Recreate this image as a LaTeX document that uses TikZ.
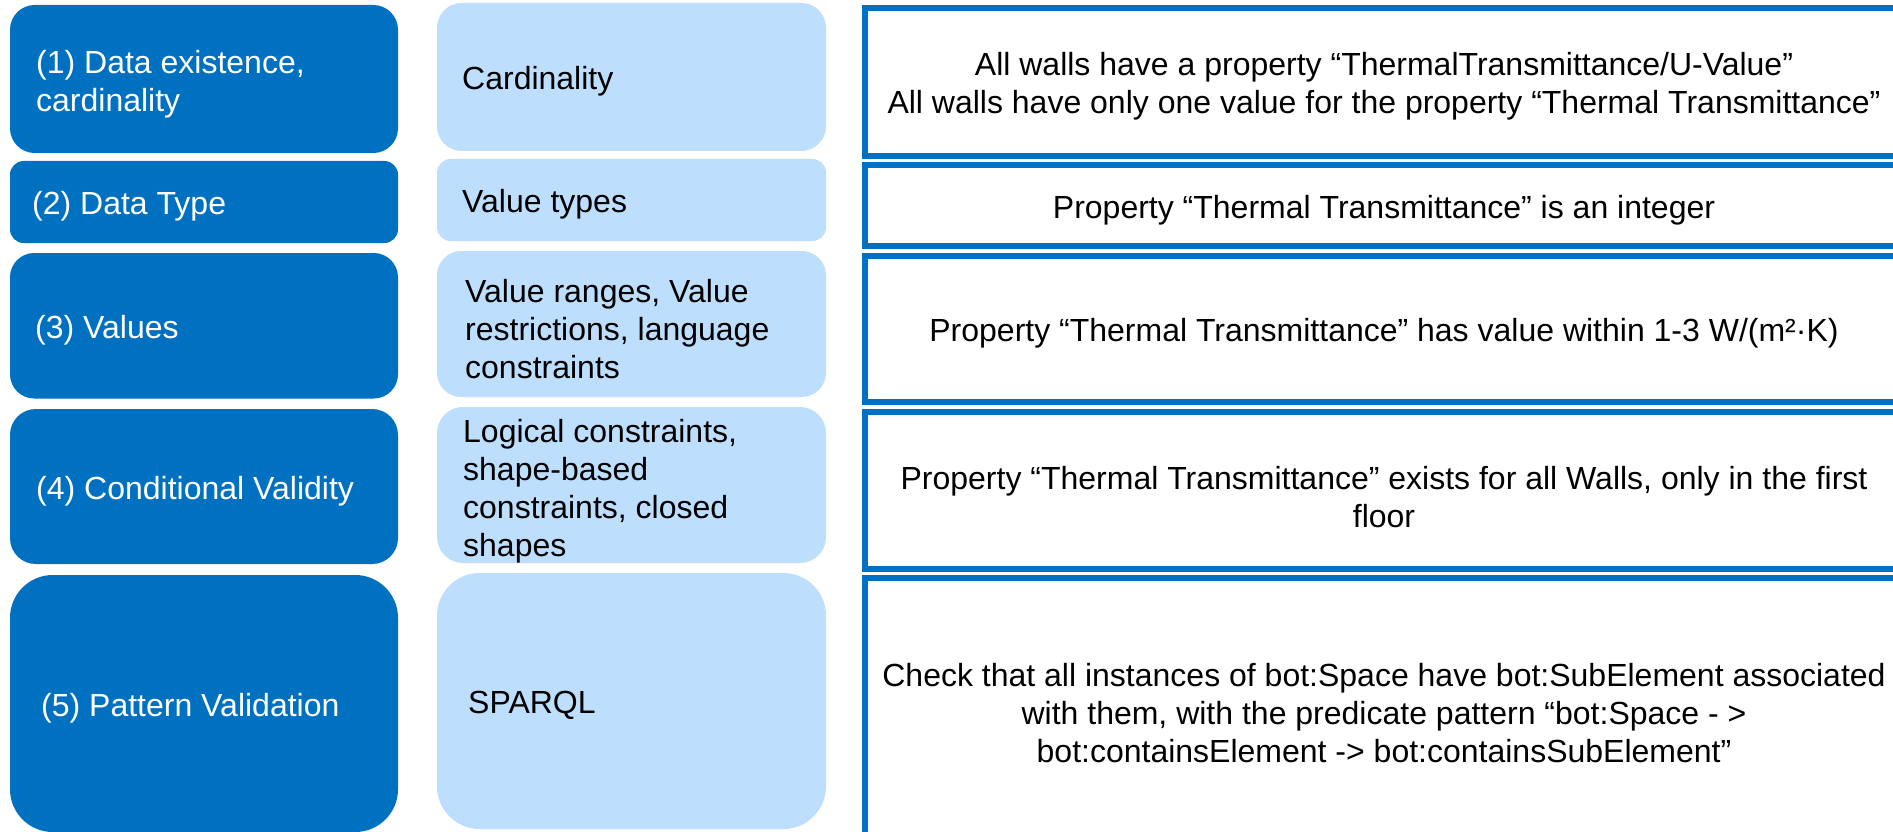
\documentclass[tikz,border=0pt]{standalone}
\usepackage{fontspec}
\setmainfont{Liberation Sans}
\definecolor{dkblue}{RGB}{0,112,192}
\definecolor{ltblue}{RGB}{189,222,253}
\newcommand{\cellfont}{\fontsize{32}{38}\selectfont}
\tikzset{
  darkbox/.style={rectangle, fill=dkblue, inner sep=0pt, minimum width=388pt},
  lightbox/.style={rectangle, fill=ltblue, inner sep=0pt, minimum width=389pt},
  framebox/.style={rectangle, draw=dkblue, line width=6pt, fill=white, inner sep=0pt, minimum width=1038pt},
  dtext/.style={anchor=west, inner sep=0pt, align=left, text=white, font=\cellfont, yshift=-4pt},
  ltext/.style={anchor=west, inner sep=0pt, align=left, text=black, font=\cellfont, yshift=-3pt},
  rtext/.style={inner sep=0pt, align=center, text=black, font=\cellfont, yshift=-4pt},
}
\begin{document}
\begin{tikzpicture}[x=1pt, y=-1pt]
\clip (0,0) rectangle (1893,832);
\fill[white] (0,0) rectangle (1893,832);

% validation levels (dark column)
\node[darkbox, minimum height=148pt, rounded corners=24.7pt] (d1) at (204,79) {};
\node[darkbox, minimum height=82pt, rounded corners=13.7pt] (d2) at (204,202) {};
\node[darkbox, minimum height=145.5pt, rounded corners=24.2pt] (d3) at (204,325.75) {};
\node[darkbox, minimum height=155pt, rounded corners=25.8pt] (d4) at (204,486.5) {};
\node[darkbox, minimum height=257pt, rounded corners=42.8pt] (d5) at (204,703.5) {};

\node[dtext] (t1) at (36,80) {(1) Data existence,\\cardinality};
\node[dtext] (t2) at (32,202) {(2) Data Type};
\node[dtext] (t3) at (35,326) {(3) Values};
\node[dtext] (t4) at (36,487) {(4) Conditional Validity};
\node[dtext] (t5) at (41,704) {(5) Pattern Validation};

% constraint kinds (light column)
\node[lightbox, minimum height=148pt, rounded corners=24.7pt] (l1) at (631.5,77) {};
\node[lightbox, minimum height=82pt, rounded corners=13.7pt] (l2) at (631.5,200) {};
\node[lightbox, minimum height=146pt, rounded corners=24.3pt] (l3) at (631.5,324) {};
\node[lightbox, minimum height=156pt, rounded corners=26pt] (l4) at (631.5,485) {};
\node[lightbox, minimum height=256pt, rounded corners=42.7pt] (l5) at (631.5,701) {};

\node[ltext] (c1) at (462,78) {Cardinality};
\node[ltext] (c2) at (462,201) {Value types};
\node[ltext] (c3) at (465,326) {Value ranges, Value\\restrictions, language\\constraints};
\node[ltext] (c4) at (463,488) {Logical constraints,\\shape-based\\constraints, closed\\shapes};
\node[ltext] (c5) at (468,702) {SPARQL};

% example rules (framed column)
\node[framebox, minimum height=148pt] (f1) at (1384,82) {};
\node[framebox, minimum height=81.3pt] (f2) at (1384,205.35) {};
\node[framebox, minimum height=145.7pt] (f3) at (1384,329.15) {};
\node[framebox, minimum height=156.4pt] (f4) at (1384,490.5) {};
\node[framebox, minimum height=322pt] (f5) at (1384,739) {};

\node[rtext] (e1) at (1384,82) {All walls have a property “ThermalTransmittance/U-Value”\\All walls have only one value for the property “Thermal Transmittance”};
\node[rtext] (e2) at (1384,206) {Property “Thermal Transmittance” is an integer};
\node[rtext] (e3) at (1384,329) {Property “Thermal Transmittance” has value within 1-3 W/(m²·K)};
\node[rtext] (e4) at (1384,493) {Property “Thermal Transmittance” exists for all Walls, only in the first\\floor};
\node[rtext] (e5) at (1384,709) {Check that all instances of bot:Space have bot:SubElement associated\\with them, with the predicate pattern “bot:Space - >\\bot:containsElement -> bot:containsSubElement”};
\end{tikzpicture}
\end{document}
